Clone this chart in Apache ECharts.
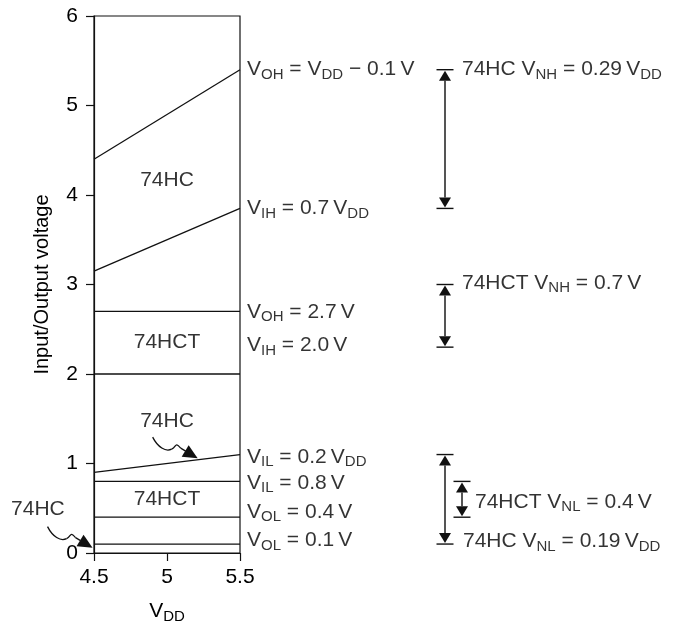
<!DOCTYPE html>
<html>
<head>
<meta charset="utf-8">
<script src="https://cdn.jsdelivr.net/npm/echarts@6/dist/echarts.min.js"></script>
<style>html,body{margin:0;padding:0;background:#fff}#c{width:678px;height:624px}</style>
</head>
<body>
<div id="c"></div>
<script>
// ---- data ----
const vdd = [4.5, 5.5];
const xTicks = [4.5, 5, 5.5];
const yTicks = [0, 1, 2, 3, 4, 5, 6];
const vohHC = [4.4, 5.4];
const vihHC = [3.15, 3.85];
const vohHCT = [2.7, 2.7];
const vihHCT = [2.0, 2.0];
const vilHC = [0.9, 1.1];
const vilHCT = [0.8, 0.8];
const volHCT = [0.4, 0.4];
const volHC = [0.1, 0.1];
const levelLines = [vohHC, vihHC, vohHCT, vihHCT, vilHC, vilHCT, volHCT, volHC];

const levelText = [
  '{v|V}{s|OH}{v| = V}{s|DD}{v| \u2212 0.1\u2009V}',
  '{v|V}{s|IH}{v| = 0.7\u2009V}{s|DD}',
  '{v|V}{s|OH}{v| = 2.7\u2009V}',
  '{v|V}{s|IH}{v| = 2.0\u2009V}',
  '{v|V}{s|IL}{v| = 0.2\u2009V}{s|DD}',
  '{v|V}{s|IL}{v| = 0.8\u2009V}',
  '{v|V}{s|OL}{v| = 0.4\u2009V}',
  '{v|V}{s|OL}{v| = 0.1\u2009V}'
];
const levelTextY = [5.4, 3.85, 2.69, 2.32, 1.07, 0.78, 0.46, 0.14];

// noise-margin arrows: [top, bottom]
const nmSpans = [[5.4, 3.85], [3.0, 2.3], [1.1, 0.1], [0.8, 0.4]];
const nmText = [
  '{v|74HC V}{s|NH}{v| = 0.29\u2009V}{s|DD}',
  '{v|74HCT V}{s|NH}{v| = 0.7\u2009V}',
  '{v|74HCT V}{s|NL}{v| = 0.4\u2009V}',
  '{v|74HC V}{s|NL}{v| = 0.19\u2009V}{s|DD}'
];
const nmTextY = [5.4, 3.02, 0.57, 0.13];

const regionText = ['74HC', '74HCT', '74HC', '74HCT', '74HC'];
const regionPos = [[5.0, 4.17], [5.0, 2.35], [5.0, 1.47], [5.0, 0.6], [4.116, 0.49]];

const curlyTips = [[5.21, 1.06], [4.49, 0.06]];

// ---- layout / style ----
const FONT = 'Liberation Sans, Arial, Helvetica, sans-serif';
const TXT = '#000';
const FS = 21;
const nmArrowDx = [205, 205, 205, 222];
const nmTextDx = [222, 222, 235, 223];
const rich = {
  v: { fontSize: FS, fontFamily: FONT, color: TXT },
  s: { fontSize: 15, fontFamily: FONT, color: TXT, padding: [10, 0, 0, 0] }
};

const chart = echarts.init(document.getElementById('c'), null, { renderer: 'canvas' });

const series = [];
levelLines.forEach((ys, i) => {
  series.push({
    type: 'line', data: vdd.map((x, k) => [x, ys[k]]),
    symbol: 'none', lineStyle: { color: '#111', width: 1.3 }, silent: true, z: 3
  });
});

series.push({
  type: 'scatter', symbolSize: 0, clip: false, silent: true,
  data: levelTextY.map(y => [5.5, y]),
  label: {
    show: true, position: [7, 0], align: 'left', verticalAlign: 'middle',
    formatter: p => levelText[p.dataIndex], rich: rich
  }
});

series.push({
  type: 'scatter', symbolSize: 0, clip: false, silent: true,
  data: nmTextY.map((y, i) => ({
    value: [5.5, y],
    label: { position: [nmTextDx[i], 0] }
  })),
  label: {
    show: true, align: 'left', verticalAlign: 'middle',
    formatter: p => nmText[p.dataIndex], rich: rich
  }
});

series.push({
  type: 'scatter', symbolSize: 0, clip: false, silent: true,
  data: regionPos,
  label: {
    show: true, position: [0, 0], align: 'center', verticalAlign: 'middle',
    formatter: p => regionText[p.dataIndex],
    fontSize: FS, fontFamily: FONT, color: TXT
  }
});

series.push({
  type: 'custom', clip: false, silent: true,
  data: nmSpans,
  renderItem: (params, api) => {
    const a = api.coord([5.5, api.value(0)]);
    const b = api.coord([5.5, api.value(1)]);
    const x = a[0] + nmArrowDx[params.dataIndex];
    const y1 = a[1], y2 = b[1];
    const hw = 6, hh = 11, tw = 8.5;
    const blk = { fill: '#111' };
    return {
      type: 'group',
      children: [
        { type: 'line', shape: { x1: x, y1: y1 + hh, x2: x, y2: y2 - hh }, style: { stroke: '#555', lineWidth: 2 } },
        { type: 'line', shape: { x1: x - tw, y1: y1, x2: x + tw, y2: y1 }, style: { stroke: '#111', lineWidth: 1.4 } },
        { type: 'line', shape: { x1: x - tw, y1: y2, x2: x + tw, y2: y2 }, style: { stroke: '#111', lineWidth: 1.4 } },
        { type: 'polygon', shape: { points: [[x, y1 + 1], [x - hw, y1 + hh], [x + hw, y1 + hh]] }, style: blk },
        { type: 'polygon', shape: { points: [[x, y2 - 1], [x - hw, y2 - hh], [x + hw, y2 - hh]] }, style: blk }
      ]
    };
  }
});

series.push({
  type: 'custom', clip: false, silent: true,
  data: curlyTips,
  renderItem: (params, api) => {
    const p = api.coord([api.value(0), api.value(1)]);
    const st = { stroke: '#111', lineWidth: 1.3, fill: null };
    return {
      type: 'group', x: p[0], y: p[1],
      children: [
        { type: 'bezierCurve', shape: { x1: -45, y1: -21, cpx1: -40, cpy1: -11, cpx2: -32, cpy2: -6, x2: -26, y2: -9 }, style: st },
        { type: 'bezierCurve', shape: { x1: -26, y1: -9, cpx1: -21, cpy1: -11, cpx2: -23, cpy2: -17, x2: -17, y2: -10 }, style: st },
        { type: 'line', shape: { x1: -17, y1: -10, x2: -12, y2: -7 }, style: { stroke: '#111', lineWidth: 1.3 } },
        { type: 'polygon', shape: { points: [[0, 0], [-16, -1.5], [-9, -13]] }, style: { fill: '#111' } }
      ]
    };
  }
});

chart.setOption({
  animation: false,
  backgroundColor: '#fff',
  grid: { left: 94, top: 16, width: 146, height: 537, outerBoundsMode: 'none', containLabel: false, show: true, borderColor: '#111', borderWidth: 1.2, backgroundColor: 'transparent' },
  xAxis: {
    type: 'value', min: xTicks[0], max: xTicks[xTicks.length - 1], interval: 0.5,
    splitLine: { show: false },
    axisLine: { lineStyle: { color: '#111', width: 1.2 } },
    axisTick: { inside: false, length: 8, lineStyle: { color: '#111', width: 1.2 } },
    axisLabel: { margin: 14, fontSize: FS, fontFamily: FONT, color: TXT, formatter: v => String(v) },
    name: '{v|V}{s|DD}', nameLocation: 'middle', nameGap: 46,
    nameTextStyle: { rich: rich }
  },
  yAxis: {
    type: 'value', min: yTicks[0], max: yTicks[yTicks.length - 1], interval: 1,
    splitLine: { show: false },
    axisLine: { lineStyle: { color: '#111', width: 1.2 } },
    axisTick: { inside: false, length: 8, lineStyle: { color: '#111', width: 1.2 } },
    axisLabel: { margin: 16, fontSize: FS, fontFamily: FONT, color: TXT },
    name: 'Input/Output voltage', nameLocation: 'middle', nameGap: 42,
    nameTextStyle: { fontSize: 20, fontFamily: FONT, color: TXT }
  },
  series: series
});
</script>
</body>
</html>
